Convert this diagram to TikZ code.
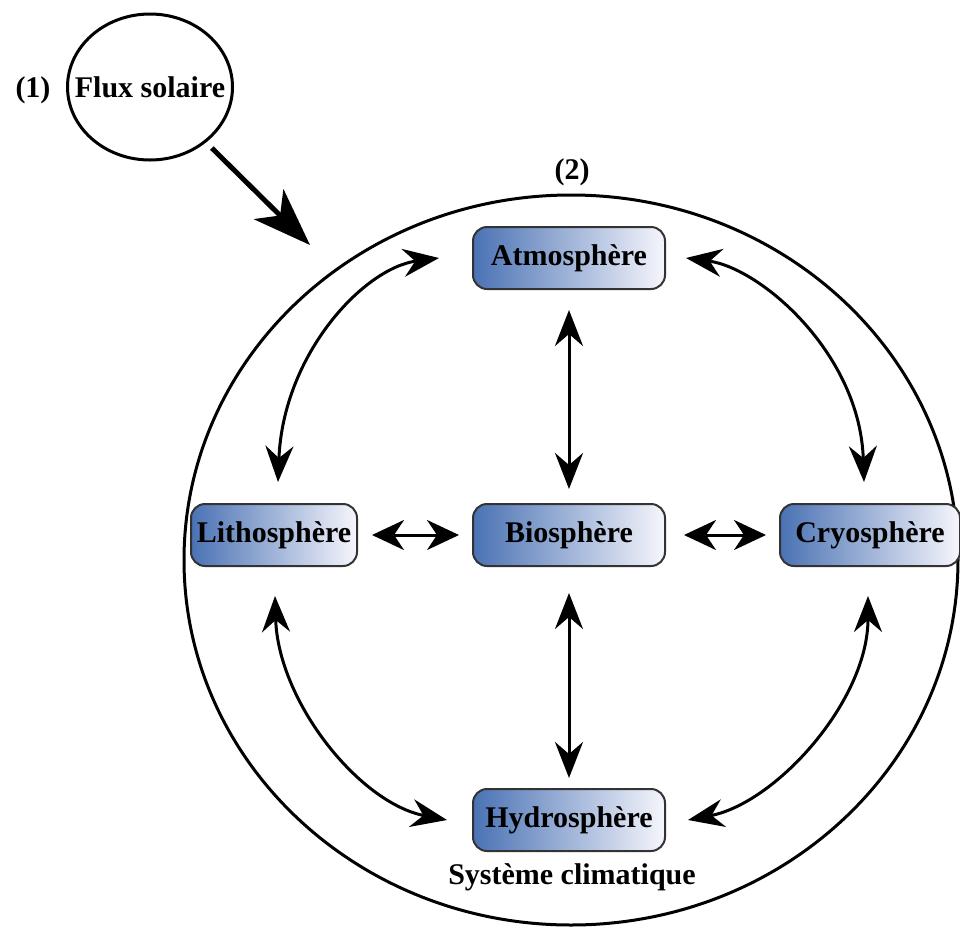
\documentclass[tikz,border=0pt]{standalone}
\usepackage{fontspec}
\setmainfont{Liberation Serif}
\usetikzlibrary{arrows.meta}
\usetikzlibrary{positioning}
\usetikzlibrary{shapes.geometric}
\definecolor{boxblue}{RGB}{74,114,180}
\definecolor{boxwhite}{RGB}{246,246,252}

\begin{document}
\begin{tikzpicture}[x=0.5pt,y=-0.5pt,line width=1.5pt,font=\fontsize{15}{18}\selectfont\bfseries]
\tikzstyle{sphere}=[draw=black!80, line width=1pt, rounded corners=7pt, left color=boxblue, right color=boxwhite, minimum width=96pt, minimum height=31pt, inner sep=1pt]
\tikzstyle{link}=[{Stealth[length=18pt,width=14pt,inset=6pt]}-{Stealth[length=18pt,width=14pt,inset=6pt]}]
\tikzstyle{shortlink}=[{Stealth[length=16pt,width=15pt,inset=5pt]}-{Stealth[length=16pt,width=15pt,inset=5pt]}]
\useasboundingbox (0,0) rectangle (960,928);

\node[draw, ellipse, minimum width=387pt, minimum height=365pt, inner sep=0pt]	(syst)	at (571,560)	{};
\node[draw, ellipse, minimum width=82.5pt, minimum height=73pt, inner sep=0pt]	(flux)	at (150,87)	{\makebox[0pt]{Flux solaire}};
\node	(n1)	at (33,90)		{(1)};
\node	(n2)	at (572,172)	{(2)};
\node	(clim)	at (572,877)	{Système climatique};
\coordinate	(fluxtip)	at (310,245);

\node[sphere]	(bio)	at (569,535)		{Biosphère};
\node[sphere]	(atmo)	[above=106.5pt of bio]		{Atmosphère};
\node[sphere]	(hydro)	[below=110.5pt of bio]		{Hydrosphère};
\node[sphere, minimum width=83pt]	(litho)	[left=57pt of bio]		{Lithosphère};
\node[sphere, minimum width=90pt]	(cryo)	[right=56.5pt of bio]	{Cryosphère};

\draw[-{Stealth[length=29pt,width=21pt,inset=8pt]}, line width=2.5pt, shorten <=4pt] (flux) -- (fluxtip);

\path(atmo)		edge[link, shorten <=10pt, shorten >=7pt]		(bio)
	 (bio)		edge[link, shorten <=13pt, shorten >=5pt]		(hydro)
	 (litho)	edge[shortlink, shorten <=7pt, shorten >=6.5pt]	(bio)
	 (bio)		edge[shortlink, shorten <=9pt, shorten >=6.5pt]	(cryo);

\draw[link] ([xshift=-16.5pt]atmo.west) .. controls +(-75,10) and +(5,-128) .. ([xshift=2pt,yshift=10.5pt]litho.north);
\draw[link] ([xshift=10pt]atmo.east) .. controls +(75,10) and +(-4,-128) .. ([xshift=-3pt,yshift=10.5pt]cryo.north);
\draw[link] ([xshift=0.5pt,yshift=-14.5pt]litho.south) .. controls +(3,105) and +(-88,-17) .. ([xshift=-12.5pt]hydro.west);
\draw[link] ([xshift=-1pt,yshift=-14.5pt]cryo.south) .. controls +(0,105) and +(88,-17) .. ([xshift=11pt]hydro.east);
\end{tikzpicture}
\end{document}
